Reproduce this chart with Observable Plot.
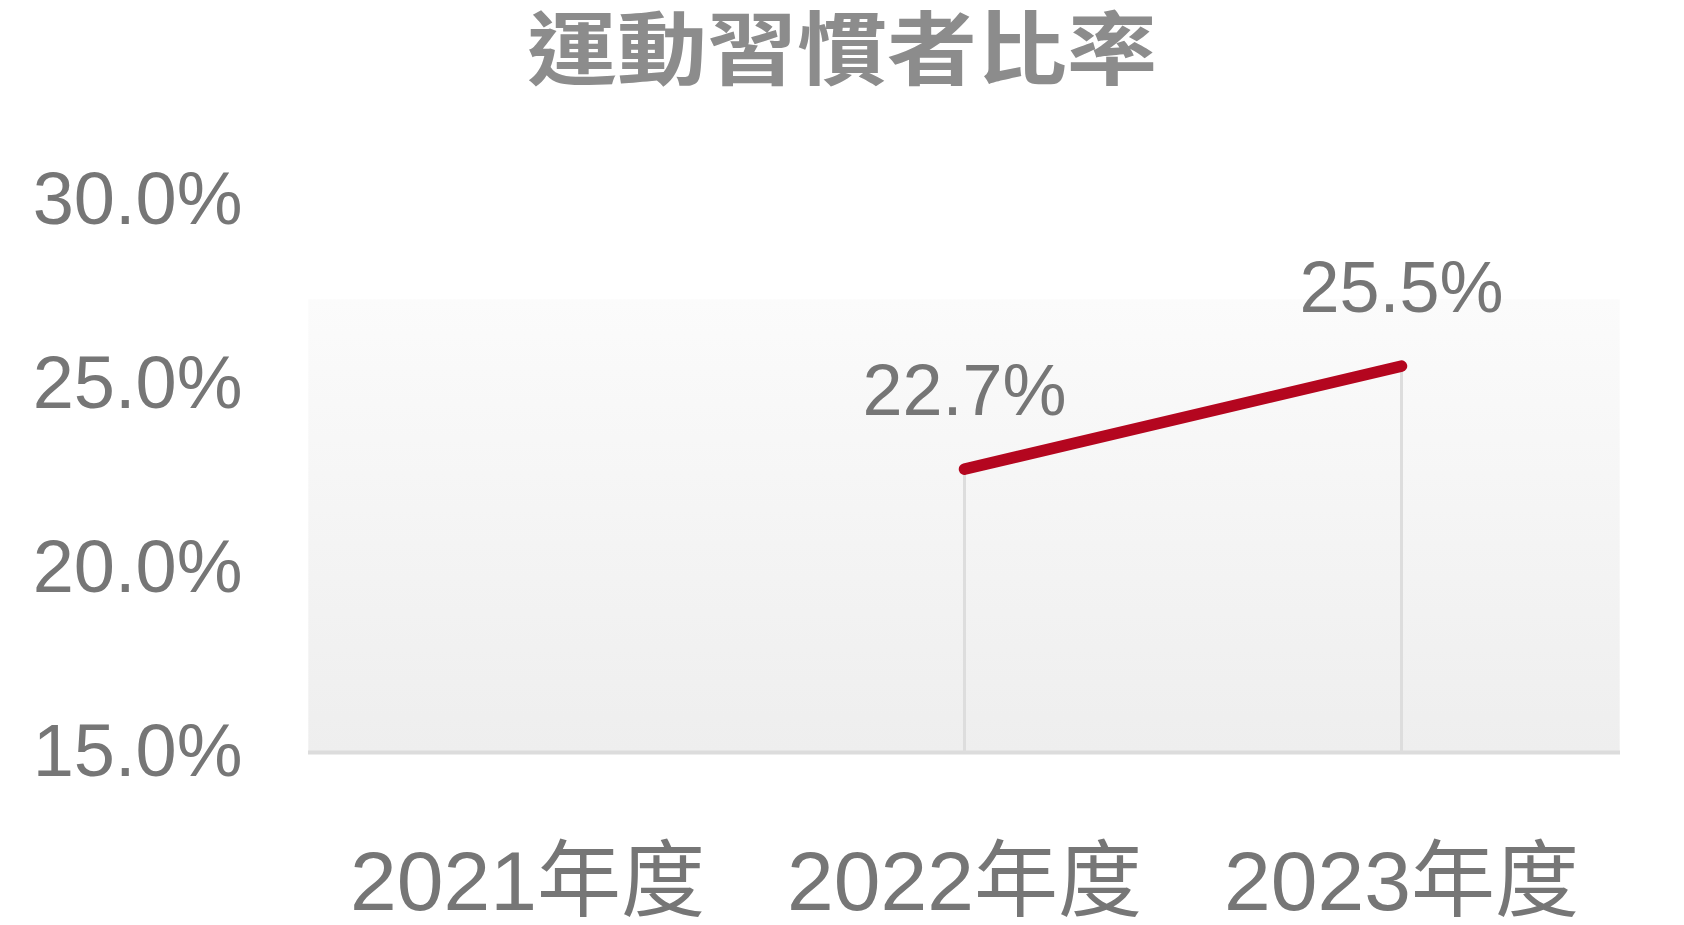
<!DOCTYPE html>
<html>
<head>
<meta charset="utf-8">
<script src="https://cdn.jsdelivr.net/npm/d3@7"></script>
<script src="https://cdn.jsdelivr.net/npm/@observablehq/plot@0.6"></script>
<style>
  html, body { margin: 0; padding: 0; background: #ffffff; overflow: hidden; }
  #title {
    width: 1684px; height: 100px; line-height: 100px;
    text-align: center; font-family: "Noto Sans CJK TC", "Noto Sans CJK SC", sans-serif;
    font-weight: 700; font-size: 90px; color: #8c8c8c;
  }
  #title span { display: inline-block; transform: translateY(-6px) scaleY(0.88); }
  #chart svg { display: block; }
</style>
</head>
<body>
<div id="title"><span>運動習慣者比率</span></div>
<div id="chart"></div>
<script>
// ---- data ----
const categories = ["2021年度", "2022年度", "2023年度"];
const years = ["2022年度", "2023年度"];
const rates = [22.7, 25.5];
const yTicks = [15, 20, 25, 30];
const bgTop = 27.3; // top of the shaded panel, in % units

const data = years.map((c, i) => ({category: c, rate: rates[i]}));

const font = '"Liberation Sans", Arial, "Noto Sans CJK TC", sans-serif';

const gradientDefs = () => {
  const svgNS = "http://www.w3.org/2000/svg";
  const defs = document.createElementNS(svgNS, "defs");
  defs.innerHTML = `
    <linearGradient id="bgGrad" x1="0" y1="0" x2="0" y2="1">
      <stop offset="0" stop-color="#fbfbfb"/>
      <stop offset="1" stop-color="#eeeeee"/>
    </linearGradient>`;
  return defs;
};

const chart = Plot.plot({
  width: 1684,
  height: 825,
  marginLeft: 308,
  marginRight: 64,
  marginTop: 100,
  marginBottom: 173,
  style: {fontFamily: font, color: "#767676", background: "transparent", overflow: "visible"},
  x: {type: "point", domain: categories, padding: 0.5, label: null},
  y: {domain: [15, 30], label: null},
  marks: [
    gradientDefs,
    Plot.rect([{}], {
      x1: () => categories[0], x2: () => categories[categories.length - 1],
      y1: 15, y2: bgTop, fill: "url(#bgGrad)",
      insetLeft: -218.7, insetRight: -218.7
    }),
    Plot.ruleY([15], {stroke: "#dcdcdc", strokeWidth: 4}),
    Plot.ruleX(data, {x: "category", y1: 15, y2: "rate", stroke: "#dddddd", strokeWidth: 3}),
    Plot.line(data, {x: "category", y: "rate", stroke: "#b4061f", strokeWidth: 11.5, strokeLinecap: "round"}),
    Plot.text(data, {
      x: "category", y: "rate", text: d => d.rate.toFixed(1) + "%",
      dy: -54, lineAnchor: "bottom", fontSize: 72, fill: "#767676", fontFamily: font
    }),
    Plot.axisY({
      ticks: yTicks, tickSize: 0, tickPadding: 66, fontSize: 74,
      tickFormat: d => d.toFixed(1) + "%", fill: "#767676", label: null
    }),
    Plot.axisX({
      tickSize: 0, tickPadding: 98, fontSize: 84, fill: "#767676", label: null
    })
  ]
});

document.getElementById("chart").appendChild(chart);
</script>
</body>
</html>
